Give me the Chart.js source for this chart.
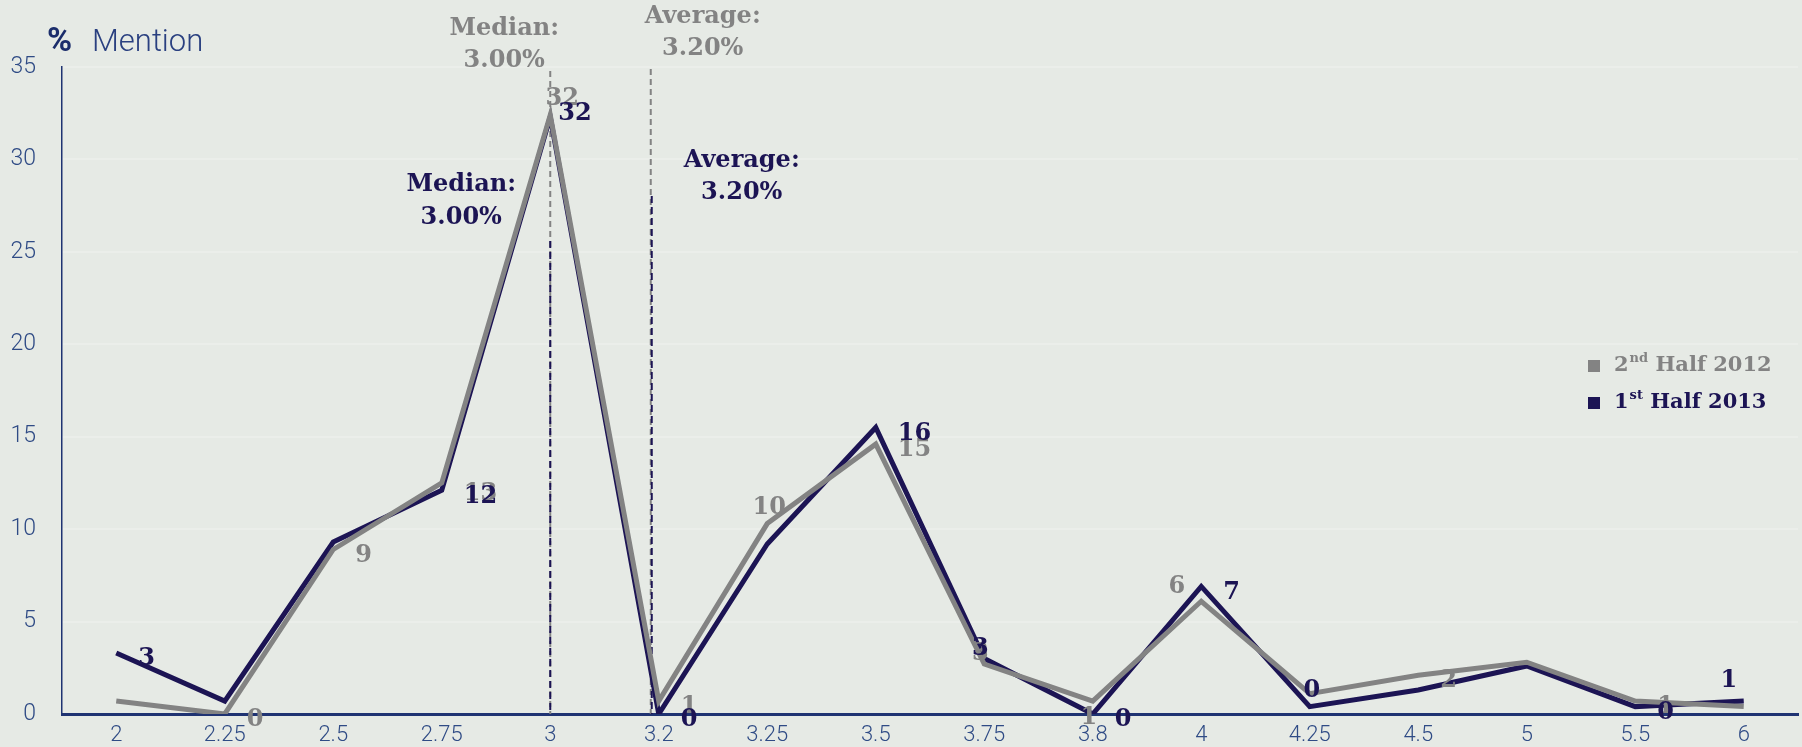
<!DOCTYPE html>
<html>
<head>
<meta charset="utf-8">
<title>% Mention by rate</title>
<script src="https://cdn.jsdelivr.net/npm/chart.js@4/dist/chart.umd.min.js"></script>
<style>
  html, body { margin: 0; padding: 0; background: #e6eae5; }
  #wrap { width: 1802px; height: 747px; position: relative; }
</style>
</head>
<body>
<div id="wrap"><canvas id="chart" width="1802" height="747"></canvas></div>
<script>
// Rate buckets on the x axis
const categories = ['2', '2.25', '2.5', '2.75', '3', '3.2', '3.25', '3.5', '3.75', '3.8', '4', '4.25', '4.5', '5', '5.5', '6'];

// % of mentions per bucket
const half2012 = [0.7, 0, 8.9, 12.5, 32.4, 0.7, 10.3, 14.6, 2.7, 0.7, 6.1, 1.1, 2.1, 2.8, 0.7, 0.4];
const half2013 = [3.3, 0.7, 9.3, 12.1, 32.3, 0, 9.2, 15.5, 3.0, 0, 6.9, 0.4, 1.3, 2.6, 0.4, 0.7];

// Which buckets carry a value label
const labelled2012 = [false, true, true, true, true, true, true, true, true, true, true, false, true, false, true, false];
const labelled2013 = [true, false, false, true, true, true, false, true, true, true, true, true, false, false, true, true];

// Summary statistics
const median2012 = '3', average2012 = '3.2';
const median2013 = '3', average2013 = '3.2';
const medianText = '3.00%', averageText = '3.20%';

const yTicks = [0, 5, 10, 15, 20, 25, 30, 35];

const NAVY = '#1c1454';
const GREY = '#838383';
const AXIS = '#1f3372';
const TICK = '#2f4b85';
const SERIF = '"DejaVu Serif", "Liberation Serif", serif';

// Where each value label sits relative to its point (default: right)
const labelPlacement = {
  0: { '2.75': 'rightlow', '3': 'top', '3.25': 'above', '3.75': 'center', '3.8': 'below', '4': 'left' },
  1: { '3': 'tight', '3.75': 'center', '4.25': 'above', '6': 'aboveleft' }
};
const placements = {
  right:     { align: 'left',   dx: 22,  dy: 6 },
  rightlow:  { align: 'left',   dx: 22,  dy: 11 },
  tight:     { align: 'left',   dx: 8,   dy: -3 },
  left:      { align: 'right',  dx: -16, dy: -14 },
  above:     { align: 'center', dx: 2,   dy: -16 },
  top:       { align: 'center', dx: 12,  dy: -16 },
  center:    { align: 'center', dx: -4,  dy: -10 },
  below:     { align: 'center', dx: -4,  dy: 17 },
  aboveleft: { align: 'center', dx: -15, dy: -20 }
};

// Dashed median/average markers and their captions
const markers = [
  { cat: median2012,  color: GREY, top: 71,  shift: 0,  dash: [6, 4], text: ['Median:', medianText],  dx: -46, y: [29, 61] },
  { cat: average2012, color: GREY, top: 69,  shift: -8, dash: [6, 4], text: ['Average:', averageText], dx: 52,  y: [17, 49] },
  { cat: median2013,  color: NAVY, top: 241, shift: 0,  dash: [7, 4], text: ['Median:', medianText],  dx: -89, y: [185, 218] },
  { cat: average2013, color: NAVY, top: 196, shift: -7, dash: [7, 4], text: ['Average:', averageText], dx: 90,  y: [161, 193] }
];

const markerPlugin = {
  id: 'markers',
  beforeDatasetsDraw(chart) {
    const ctx = chart.ctx;
    const x = chart.scales.x, y = chart.scales.y;
    ctx.save();
    markers.forEach(m => {
      const px = x.getPixelForValue(categories.indexOf(m.cat)) + m.shift;
      ctx.strokeStyle = m.color;
      ctx.lineWidth = 2;
      ctx.setLineDash(m.dash);
      ctx.beginPath();
      ctx.moveTo(px, m.top);
      ctx.lineTo(px, y.getPixelForValue(0));
      ctx.stroke();
    });
    ctx.restore();
  },
  afterDatasetsDraw(chart) {
    const ctx = chart.ctx;
    const x = chart.scales.x;
    ctx.save();
    ctx.font = 'bold 24px ' + SERIF;
    ctx.textAlign = 'center';
    ctx.textBaseline = 'middle';
    markers.forEach(m => {
      const px = x.getPixelForValue(categories.indexOf(m.cat)) + m.shift;
      ctx.fillStyle = m.color;
      m.text.forEach((t, i) => ctx.fillText(t, px + m.dx, m.y[i]));
    });
    ctx.restore();
  }
};

const valueLabelPlugin = {
  id: 'valueLabels',
  afterDatasetsDraw(chart) {
    const ctx = chart.ctx;
    ctx.save();
    ctx.font = 'bold 24px ' + SERIF;
    ctx.textBaseline = 'middle';
    chart.data.datasets.forEach((ds, di) => {
      const meta = chart.getDatasetMeta(di);
      meta.data.forEach((pt, i) => {
        if (!ds.labelled[i]) return;
        const key = (labelPlacement[di] || {})[categories[i]] || 'right';
        const p = placements[key];
        ctx.fillStyle = ds.borderColor;
        ctx.textAlign = p.align;
        ctx.fillText(String(Math.round(ds.data[i])), pt.x + p.dx, pt.y + p.dy);
      });
    });
    ctx.restore();
  }
};

// Legend with ordinal superscripts, plus the y-axis caption
const legendItems = [
  { color: GREY, lead: '2', sup: 'nd', rest: ' Half 2012', y: 366 },
  { color: NAVY, lead: '1', sup: 'st', rest: ' Half 2013', y: 403 }
];
const captionPlugin = {
  id: 'captions',
  afterDraw(chart) {
    const ctx = chart.ctx;
    ctx.save();
    legendItems.forEach(it => {
      ctx.fillStyle = it.color;
      ctx.fillRect(1588, it.y - 6, 12, 12);
      let cx = 1614;
      ctx.textBaseline = 'middle';
      ctx.textAlign = 'left';
      ctx.font = 'bold 21px ' + SERIF;
      ctx.fillText(it.lead, cx, it.y);
      cx += ctx.measureText(it.lead).width + 1;
      ctx.font = 'bold 13px ' + SERIF;
      ctx.fillText(it.sup, cx, it.y - 7);
      cx += ctx.measureText(it.sup).width;
      ctx.font = 'bold 21px ' + SERIF;
      ctx.fillText(it.rest, cx, it.y);
    });
    ctx.fillStyle = '#1b2d6b';
    ctx.textBaseline = 'alphabetic';
    ctx.font = 'bold 34px Roboto, sans-serif';
    ctx.fillText('%', 47, 51);
    ctx.fillStyle = '#2a4080';
    ctx.font = '300 31px Roboto, sans-serif';
    ctx.fillText('Mention', 92, 51);
    ctx.restore();
  }
};

new Chart(document.getElementById('chart'), {
  type: 'line',
  data: {
    labels: categories,
    datasets: [
      { label: '2nd Half 2012', data: half2012, labelled: labelled2012, borderColor: GREY, backgroundColor: GREY },
      { label: '1st Half 2013', data: half2013, labelled: labelled2013, borderColor: NAVY, backgroundColor: NAVY }
    ]
  },
  options: {
    responsive: false,
    animation: false,
    devicePixelRatio: 1,
    layout: { padding: { top: 67, right: 4, left: 0, bottom: 0 } },
    elements: {
      line: { borderWidth: 5, tension: 0, borderJoinStyle: 'miter', borderCapStyle: 'butt' },
      point: { radius: 0, hoverRadius: 0 }
    },
    plugins: { legend: { display: false }, tooltip: { enabled: false } },
    scales: {
      x: {
        type: 'category',
        offset: true,
        grid: { display: false, drawTicks: false },
        border: { display: true, color: AXIS, width: 3 },
        ticks: { color: TICK, font: { family: 'Roboto', weight: '300', size: 22 }, padding: 8, maxRotation: 0, autoSkip: false },
        afterFit(scale) { scale.height = 33; }
      },
      y: {
        min: 0,
        max: 35,
        afterBuildTicks(scale) { scale.ticks = yTicks.map(v => ({ value: v })); },
        grid: {
          drawTicks: false,
          lineWidth: 2,
          color: ctx => ctx.tick && ctx.tick.value === 0 ? 'rgba(0,0,0,0)' : 'rgba(255,255,255,0.2)'
        },
        border: { display: true, color: AXIS, width: 1.5 },
        ticks: { color: TICK, font: { family: 'Roboto', weight: '300', size: 23 }, padding: 26 },
        afterFit(scale) {
          scale.width = 62;
          scale.paddingTop = 0;
          scale.paddingBottom = 0;
        }
      }
    }
  },
  plugins: [markerPlugin, valueLabelPlugin, captionPlugin]
});
</script>
</body>
</html>
